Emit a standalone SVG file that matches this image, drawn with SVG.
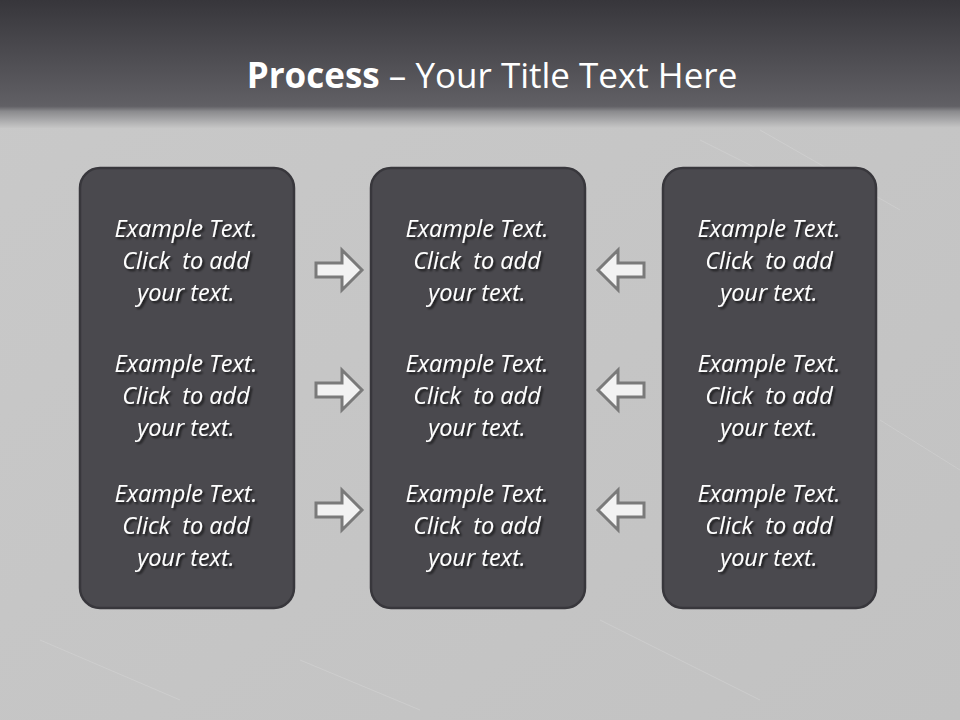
<svg xmlns="http://www.w3.org/2000/svg" width="960" height="720" viewBox="0 0 960 720">
<defs>
<linearGradient id="hdr" x1="0" y1="0" x2="0" y2="1">
<stop offset="0" stop-color="#37363b"/>
<stop offset="0.83" stop-color="#616065"/>
<stop offset="0.87" stop-color="#8a8a8d"/>
<stop offset="1" stop-color="#c6c6c6"/>
</linearGradient>
<linearGradient id="bg" x1="0" y1="0" x2="1" y2="1">
<stop offset="0" stop-color="#c9c9c9"/>
<stop offset="1" stop-color="#c2c2c2"/>
</linearGradient>
<filter id="ts" x="-10%" y="-30%" width="130%" height="170%">
<feGaussianBlur in="SourceAlpha" stdDeviation="1.2"/>
<feOffset dx="2" dy="2" result="b"/>
<feFlood flood-color="#000" flood-opacity="0.7"/>
<feComposite in2="b" operator="in"/>
<feMerge><feMergeNode/><feMergeNode in="SourceGraphic"/></feMerge>
</filter>
<path id="ra" d="M0,-7 L26,-7 L26,-20 L46,0 L26,20 L26,7 L0,7 Z"/>
<path id="la" d="M0,-7 L-26,-7 L-26,-20 L-46,0 L-26,20 L-26,7 L0,7 Z"/>
</defs>
<style>
.box{fill:#4a494e;stroke:#38373c;stroke-width:2.5}
.t{font-family:"Open Sans","Noto Sans",sans-serif;font-style:italic;font-size:23.5px;fill:#ffffff;text-anchor:middle}
.arr{fill:#f2f2f2;stroke:#7a7a7a;stroke-width:3;stroke-linejoin:miter}
</style>
<rect width="960" height="720" fill="url(#bg)"/>
<g stroke="#d6d6d6" stroke-width="1" opacity="0.5" fill="none">
<path d="M700,140 L820,200"/><path d="M760,130 L900,210"/><path d="M40,640 L180,700"/><path d="M600,620 L760,700"/><path d="M880,420 L960,470"/><path d="M300,660 L420,710"/>
</g>
<rect width="960" height="128" fill="url(#hdr)"/>
<text x="492" y="88" font-family="'Open Sans','Noto Sans',sans-serif" font-size="35" fill="#ffffff" text-anchor="middle"><tspan font-weight="bold">Process</tspan> – Your Title Text Here</text>
<g id="box1"><rect class="box" x="80" y="168" width="214" height="440" rx="20"/>
<g class="t" filter="url(#ts)">
<text x="186" y="237">Example Text.</text><text x="186" y="269">Click&#160; to add</text><text x="186" y="301">your text.</text>
<text x="186" y="372">Example Text.</text><text x="186" y="404">Click&#160; to add</text><text x="186" y="436">your text.</text>
<text x="186" y="502">Example Text.</text><text x="186" y="534">Click&#160; to add</text><text x="186" y="566">your text.</text>
</g></g>
<g id="box2"><rect class="box" x="371" y="168" width="214" height="440" rx="20"/>
<g class="t" filter="url(#ts)">
<text x="477" y="237">Example Text.</text><text x="477" y="269">Click&#160; to add</text><text x="477" y="301">your text.</text>
<text x="477" y="372">Example Text.</text><text x="477" y="404">Click&#160; to add</text><text x="477" y="436">your text.</text>
<text x="477" y="502">Example Text.</text><text x="477" y="534">Click&#160; to add</text><text x="477" y="566">your text.</text>
</g></g>
<g id="box3"><rect class="box" x="663" y="168" width="213" height="440" rx="20"/>
<g class="t" filter="url(#ts)">
<text x="769" y="237">Example Text.</text><text x="769" y="269">Click&#160; to add</text><text x="769" y="301">your text.</text>
<text x="769" y="372">Example Text.</text><text x="769" y="404">Click&#160; to add</text><text x="769" y="436">your text.</text>
<text x="769" y="502">Example Text.</text><text x="769" y="534">Click&#160; to add</text><text x="769" y="566">your text.</text>
</g></g>
<g id="connectors">
<use href="#ra" class="arr" x="316" y="270"/>
<use href="#ra" class="arr" x="316" y="390"/>
<use href="#ra" class="arr" x="316" y="510"/>
<use href="#la" class="arr" x="644" y="270"/>
<use href="#la" class="arr" x="644" y="390"/>
<use href="#la" class="arr" x="644" y="510"/>
</g>
</svg>
